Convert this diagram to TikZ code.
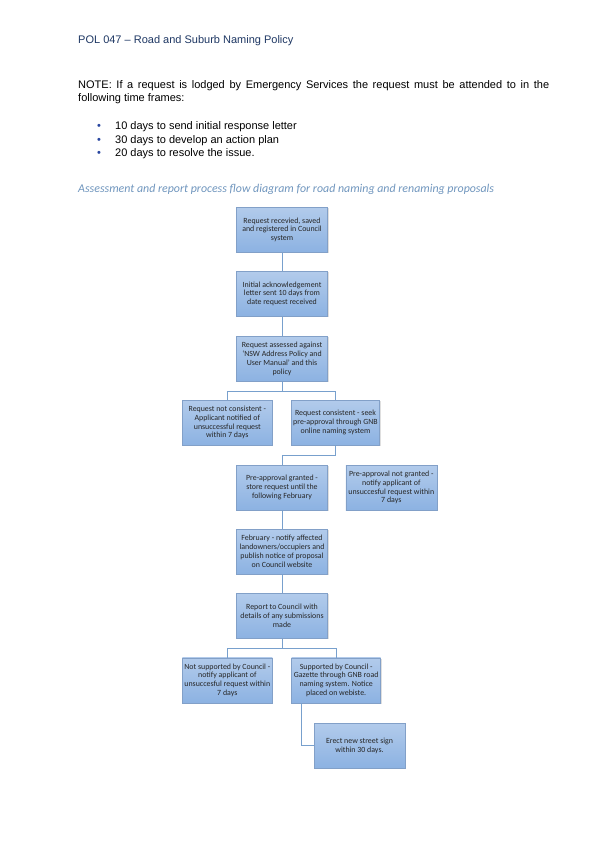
\documentclass[tikz,border=0pt]{standalone}
\usepackage{fontspec}
\setmainfont{Liberation Sans}
\newfontfamily\boxfont{Carlito}
\usetikzlibrary{shadows}
\definecolor{hdr}{RGB}{31,56,100}
\definecolor{cap}{RGB}{112,150,190}
\definecolor{bultc}{RGB}{40,70,160}
\definecolor{boxtop}{RGB}{178,203,235}
\definecolor{boxbot}{RGB}{140,178,226}
\definecolor{boxline}{RGB}{130,160,200}
\definecolor{conn}{RGB}{120,160,205}
\begin{document}
\begin{tikzpicture}[x=1pt,y=-1pt,
  flowbox/.style={draw=boxline,line width=0.5pt,top color=boxtop,bottom color=boxbot,
    minimum width=91pt,minimum height=45pt,align=center,inner sep=0.5pt,
    font=\boxfont\fontsize{7.9}{8.9}\selectfont,text=black!85,
    drop shadow={shadow xshift=1pt,shadow yshift=-1pt,opacity=0.25}},
  link/.style={draw=conn,line width=0.7pt},
  bodytext/.style={anchor=base west,inner sep=0pt,font=\fontsize{11}{13}\selectfont}]
\useasboundingbox (0,0) rectangle (599,848);
\fill[white] (0,0) rectangle (599,848);
% header and notes
\node[bodytext,text=hdr] (hdr) at (78,44) {POL 047 – Road and Suburb Naming Policy};
\node[anchor=north west,inner sep=0pt,text width=471pt,align=justify,font=\fontsize{11}{12.7}\selectfont] (note) at (78,80.8)
  {NOTE: If a request is lodged by Emergency Services the request must be attended to in the\linebreak following time frames:};
\node[bodytext,text=bultc] (b1) at (97,129.3) {\textbullet};
\node[bodytext,text=bultc] (b2) at (97,143.3) {\textbullet};
\node[bodytext,text=bultc] (b3) at (97,156.7) {\textbullet};
\node[bodytext] (l1) at (115,129.3) {10 days to send initial response letter};
\node[bodytext] (l2) at (115,143.3) {30 days to develop an action plan};
\node[bodytext] (l3) at (115,156.7) {20 days to resolve the issue.};
\node[anchor=base west,inner sep=0pt,text=cap,font=\boxfont\itshape\fontsize{11.9}{14}\selectfont] (cap) at (78,192)
  {Assessment and report process flow diagram for road naming and renaming proposals};
% boxes
\node[flowbox] (n1) at (282,229.8) {Request recevied, saved\\and registered in Council\\system};
\node[flowbox] (n2) at (282,293.8) {Initial acknowledgement\\letter sent 10 days from\\date request received};
\node[flowbox] (n3) at (282,358.7) {Request assessed against\\‘NSW Address Policy and\\User Manual’ and this\\policy};
\node[flowbox,minimum width=90pt] (n4) at (227.3,422.5) {Request not consistent -\\Applicant notified of\\unsuccessful request\\within 7 days};
\node[flowbox,minimum width=88pt] (n5) at (335.5,422.5) {Request consistent - seek\\pre-approval through GNB\\online naming system};
\node[flowbox] (n6) at (282,487.5) {Pre-approval granted -\\store request until the\\following February};
\node[flowbox] (n7) at (391.3,487.5) {Pre-approval not granted -\\notify applicant of\\unsuccesful request within\\7 days};
\node[flowbox] (n8) at (282,551.5) {February - notify affected\\landowners/occupiers and\\publish notice of proposal\\on Council website};
\node[flowbox] (n9) at (282,615.8) {Report to Council with\\details of any submissions\\made};
\node[flowbox,minimum width=90pt] (n10) at (227.3,680.3) {Not supported by Council -\\notify applicant of\\unsuccesful request within\\7 days};
\node[flowbox,minimum width=89pt] (n11) at (336.2,680.3) {Supported by Council -\\Gazette through GNB road\\naming system. Notice\\placed on webiste.};
\node[flowbox] (n12) at (359.5,745.5) {Erect new street sign\\within 30 days.};
% connectors
\draw[link] (n1.south) -- (n2.north);
\draw[link] (n2.south) -- (n3.north);
\draw[link] (n3.south) -- (282,391) -| (n4.north);
\draw[link] (282,391) -| (n5.north);
\draw[link] (n5.south) -- (335.5,455) -| (n6.north);
\draw[link] (n6.south) -- (n8.north);
\draw[link] (n8.south) -- (n9.north);
\draw[link] (n9.south) -- (282,648.3) -| (n10.north);
\draw[link] (282,648.3) -| (n11.north);
\draw[link] (n11.south -| 301,0) |- (n12.west);
\end{tikzpicture}
\end{document}
